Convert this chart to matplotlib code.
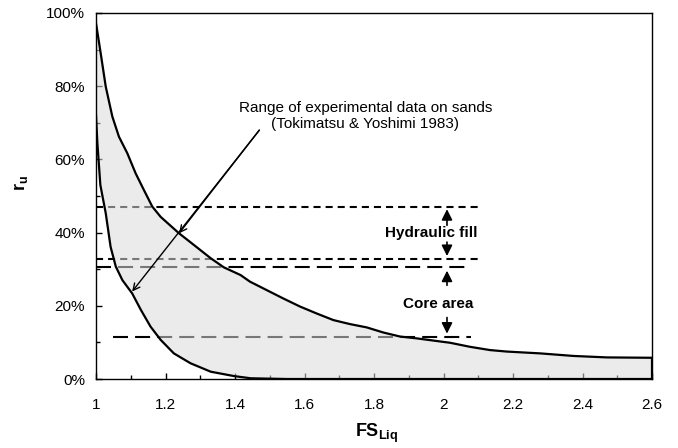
import numpy as np
import matplotlib
matplotlib.use('Agg')
import matplotlib.pyplot as plt
from matplotlib.ticker import MultipleLocator, FuncFormatter

plt.rcParams['font.family'] = ['Liberation Sans', 'DejaVu Sans']
plt.rcParams['mathtext.fontset'] = 'custom'
plt.rcParams['mathtext.rm'] = 'Liberation Sans'
plt.rcParams['mathtext.bf'] = 'Liberation Sans:bold'

# upper bound of experimental range (FS, ru %)
upper_fs = [1.0, 1.0135, 1.028, 1.047, 1.066, 1.09, 1.114, 1.138, 1.162, 1.186, 1.239,
            1.282, 1.33, 1.368, 1.416, 1.443, 1.491, 1.539, 1.587, 1.635, 1.683, 1.731,
            1.779, 1.827, 1.875, 1.923, 1.971, 2.019, 2.076, 2.134, 2.182, 2.278, 2.374,
            2.47, 2.6]
upper_ru = [97.2, 89, 79.9, 71.7, 66.2, 61.7, 56.2, 51.6, 47.1, 44.3, 39.8,
            36.6, 33, 30.5, 28.4, 26.6, 24.3, 22, 19.8, 17.9, 16.1, 15.0,
            14.1, 12.7, 11.6, 11.1, 10.5, 9.9, 8.8, 7.9, 7.5, 7.0, 6.3,
            5.9, 5.8]

# lower bound
lower_fs = [1.0, 1.004, 1.0125, 1.028, 1.042, 1.057, 1.076, 1.104, 1.129, 1.157, 1.186,
            1.224, 1.272, 1.33, 1.397, 1.445, 1.55, 2.6]
lower_ru = [72, 64.4, 53, 45.3, 36.1, 30.7, 27, 23.4, 18.9, 14.3, 10.7,
            7.0, 4.3, 2.0, 0.8, 0.2, 0.0, 0.0]

# ru levels: hydraulic fill and core area
hf_levels = [47, 32.7]
core_levels = [30.5, 11.4]
hf_xrange = [1.0, 2.1]
core_xranges = [[1.0, 2.08], [1.05, 2.08]]

fig = plt.figure(figsize=(6.78, 4.48), dpi=100)
ax = fig.add_axes([0.1416, 0.154, 0.8201, 0.817])

# dashed levels (drawn under the translucent fill so they look grey inside it)
for lev in hf_levels:
    ax.plot(hf_xrange, [lev, lev], color='k', lw=1.5, dashes=(3.4, 2.4), zorder=1)
for lev, xr in zip(core_levels, core_xranges):
    ax.plot(xr, [lev, lev], color='k', lw=1.5, dashes=(7.2, 3.4), zorder=1)

# shaded range
poly_x = np.concatenate([upper_fs, lower_fs[::-1]])
poly_y = np.concatenate([upper_ru, lower_ru[::-1]])
ax.fill(poly_x, poly_y, color=(0.86, 0.86, 0.86), alpha=0.55, lw=0, zorder=2)

ax.plot(upper_fs, upper_ru, color='k', lw=1.6, zorder=3, solid_joinstyle='round')
ax.plot(lower_fs, lower_ru, color='k', lw=1.6, zorder=3, solid_joinstyle='round')
ax.plot([upper_fs[-1], lower_fs[-1]], [upper_ru[-1], lower_ru[-1]], color='k', lw=1.6, zorder=3)

# level arrows
arr = dict(arrowstyle='-|>', color='k', lw=1.2, mutation_scale=16, shrinkA=0, shrinkB=0)
ax.annotate('', xy=(2.01, 46.4), xytext=(2.01, 42.0), arrowprops=arr)
ax.annotate('', xy=(2.01, 33.6), xytext=(2.01, 37.4), arrowprops=arr)
ax.annotate('', xy=(2.01, 29.6), xytext=(2.01, 25.6), arrowprops=arr)
ax.annotate('', xy=(2.01, 12.4), xytext=(2.01, 16.8), arrowprops=arr)
ax.text(1.965, 40.0, 'Hydraulic fill', ha='center', va='center', fontsize=11, fontweight='bold')
ax.text(1.985, 20.6, 'Core area', ha='center', va='center', fontsize=11, fontweight='bold')

# range annotation
ax.text(1.775, 71.8, 'Range of experimental data on sands\n(Tokimatsu & Yoshimi 1983)',
        ha='center', va='center', fontsize=11, linespacing=1.2)
thin = dict(arrowstyle='->', color='k', lw=1.0, shrinkA=0, shrinkB=0, mutation_scale=12)
ax.annotate('', xy=(1.239, 39.8), xytext=(1.47, 68), arrowprops=thin)
ax.annotate('', xy=(1.104, 23.9), xytext=(1.47, 68), arrowprops=thin)

ax.set_xlim(1.0, 2.6)
ax.set_ylim(0, 100)
ax.xaxis.set_major_locator(MultipleLocator(0.2))
ax.xaxis.set_minor_locator(MultipleLocator(0.1))
ax.yaxis.set_major_locator(MultipleLocator(20))
ax.yaxis.set_minor_locator(MultipleLocator(10))
ax.xaxis.set_major_formatter(FuncFormatter(lambda v, p: ('%.1f' % v).rstrip('0').rstrip('.')))
ax.yaxis.set_major_formatter(FuncFormatter(lambda v, p: '%d%%' % round(v)))
ax.tick_params(which='both', direction='in', top=False, right=False, labelsize=11, width=1)
ax.tick_params(which='major', length=4)
ax.tick_params(which='minor', length=3)
ax.tick_params(axis='x', pad=14)
ax.tick_params(axis='y', pad=8)
for s in ax.spines.values():
    s.set_linewidth(1.0)

ax.set_xlabel(r'$\mathbf{FS}_{\mathbf{Liq}}$', fontsize=13)
ax.set_ylabel(r'$\mathbf{r}_{\mathbf{u}}$', fontsize=13)
ax.xaxis.label.set_va('center')
ax.yaxis.label.set_va('center')
ax.xaxis.set_label_coords(0.505, -0.148)
ax.yaxis.set_label_coords(-0.135, 0.535)

fig.savefig('out.png', dpi=100)
